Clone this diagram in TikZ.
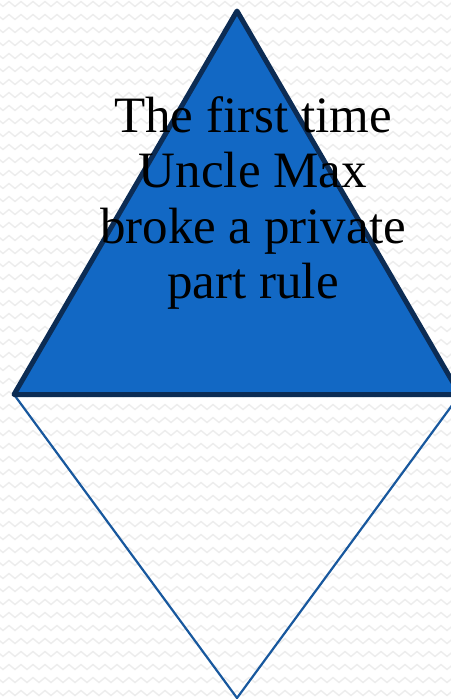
\documentclass[tikz,border=0pt]{standalone}
\usepackage{fontspec}
\setmainfont{Liberation Serif}
\usetikzlibrary{calc,decorations.pathmorphing}
\definecolor{topblue}{RGB}{18,104,196}
\definecolor{topedge}{RGB}{12,44,84}
\definecolor{lowedge}{RGB}{24,88,158}
\tikzset{uptri/.style={draw=topedge, fill=topblue, line width=5pt, line join=round},
  lowtri/.style={draw=lowedge, line width=2.2pt},
  zig/.style={draw=black!7, line width=1.4pt, decorate,
    decoration={zigzag, segment length=12pt, amplitude=2.5pt}},
  caption/.style={align=center, inner sep=0pt, font=\fontsize{51}{55.5}\selectfont}}

\begin{document}
\begin{tikzpicture}[x=1pt, y=-1pt]
  \useasboundingbox (0,0) rectangle (450,699);
  \fill[white] (0,0) rectangle (450,699);
  % faint zigzag background
  \foreach \j in {0,...,54}
    \draw[zig] (-6,\j*13+4) -- (460,\j*13+4);
  % corners
  \coordinate (apex) at (237,11);
  \coordinate (bl) at (14,394.5);
  \coordinate (br) at (460,394.5);
  \coordinate (tip) at (237,698);
  % lower (open) triangle
  \draw[lowtri] (bl) -- (tip) -- (br);
  % upper filled triangle
  \draw[uptri] (apex) -- (bl) -- (br) -- cycle;
  \node[caption] (txt) at (253,203) {The first time\\Uncle Max\\broke a private\\part rule};
\end{tikzpicture}
\end{document}
